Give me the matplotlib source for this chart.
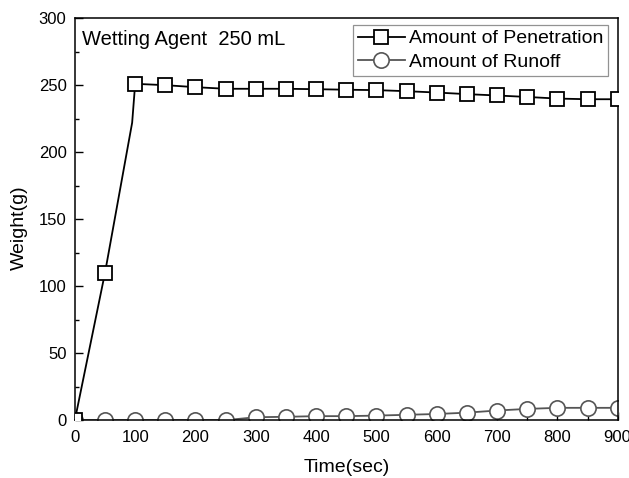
import matplotlib
matplotlib.use("Agg")
import matplotlib.pyplot as plt
from matplotlib.ticker import MultipleLocator

plt.rcParams['font.family'] = ['Liberation Sans', 'DejaVu Sans']

# Data
time_pen = [0, 50, 95, 100, 150, 200, 250, 300, 350, 400, 450, 500, 550, 600, 650, 700, 750, 800, 850, 900]
penetration = [0, 110, 222, 251, 250, 248.5, 247.3, 247.3, 247.3, 247, 246.6, 246.3, 245.5, 244.5, 243.3, 242.3, 241.2, 240, 239.5, 239.5]
pen_marked = [0, 1] + list(range(3, 20))

time_run = [0, 50, 100, 150, 200, 250, 300, 350, 400, 450, 500, 550, 600, 650, 700, 750, 800, 850, 900]
runoff = [0, 0, 0, 0, 0, 0, 2.2, 2.5, 3, 3, 3.4, 4, 4.6, 5.6, 7.2, 8.4, 9.2, 9.2, 9.2]

label_pen = "Amount of Penetration"
label_run = "Amount of Runoff"
annotation = "Wetting Agent  250 mL"

fig = plt.figure(figsize=(6.29, 4.78), dpi=100)
ax = fig.add_axes([0.119, 0.121, 0.863, 0.841])

ax.plot(time_run, runoff, color='#555555', lw=1.3, marker='o', ms=11,
        mfc='white', mec='#555555', mew=1.2, label=label_run, zorder=2)
ax.plot(time_pen, penetration, color='black', lw=1.3, marker='s', ms=10.5,
        mfc='white', mec='black', mew=1.3, markevery=pen_marked,
        label=label_pen, zorder=3)

ax.set_xlim(0, 900)
ax.set_ylim(0, 300)
ax.xaxis.set_major_locator(MultipleLocator(100))
ax.xaxis.set_minor_locator(MultipleLocator(50))
ax.yaxis.set_major_locator(MultipleLocator(50))
ax.yaxis.set_minor_locator(MultipleLocator(25))
ax.tick_params(which='both', direction='in', top=False, right=False, labelsize=12, width=1)
ax.tick_params(which='major', length=6)
ax.tick_params(axis='x', which='major', pad=7)
ax.tick_params(axis='y', which='major', pad=6)
ax.tick_params(which='minor', length=3)
for s in ax.spines.values():
    s.set_linewidth(1.1)

ax.set_xlabel("Time(sec)", fontsize=14, labelpad=10)
ax.set_ylabel("Weight(g)", fontsize=14, labelpad=8)
ax.yaxis.label.set_y(0.48)

ax.text(0.014, 0.97, annotation, transform=ax.transAxes, fontsize=14.5,
        ha='left', va='top')

h, l = ax.get_legend_handles_labels()
leg = ax.legend(h[::-1], l[::-1], loc='upper right', bbox_to_anchor=(0.982, 0.983),
                fontsize=14, frameon=True, fancybox=False, handlelength=2.4,
                handletextpad=0.2, borderpad=0.25, labelspacing=0.3, borderaxespad=0)
leg.get_frame().set_edgecolor('#777777')
leg.get_frame().set_linewidth(0.9)

fig.savefig("out.png", dpi=100)
